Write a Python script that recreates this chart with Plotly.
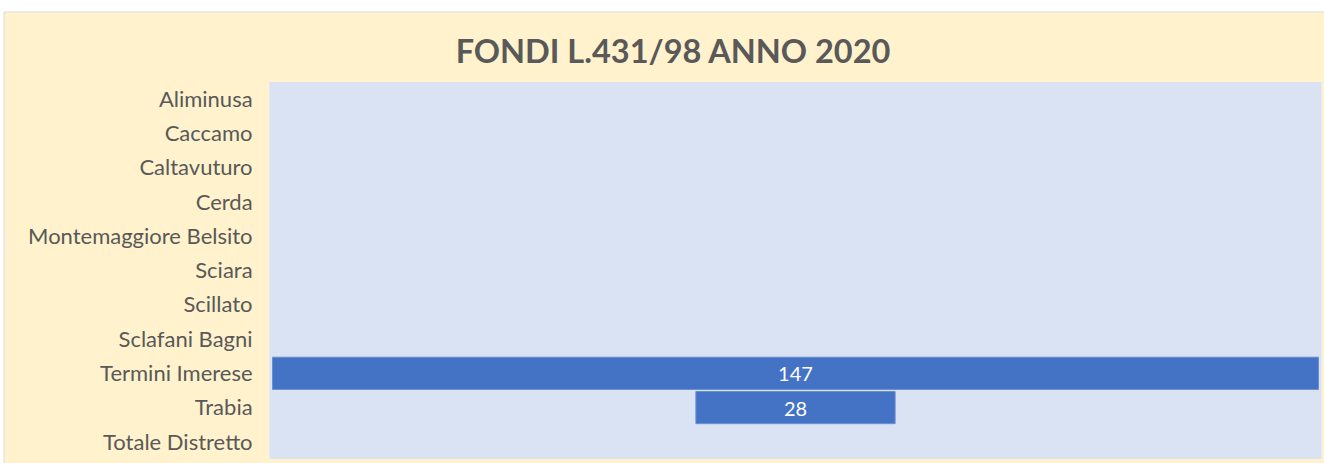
import plotly.graph_objects as go

categories = ["Aliminusa", "Caccamo", "Caltavuturo", "Cerda", "Montemaggiore Belsito",
              "Sciara", "Scillato", "Sclafani Bagni", "Termini Imerese", "Trabia",
              "Totale Distretto"]
values = [None, None, None, None, None, None, None, None, 147, 28, None]
title_text = "FONDI L.431/98 ANNO 2020"

W, H = 1324, 463
L, R, T, B = 270, 3, 82, 4
pw = W - L - R
ph = H - T - B

fig = go.Figure(go.Funnel(
    y=categories,
    x=values,
    textinfo="value",
    textposition="inside",
    insidetextfont=dict(color="white", size=20, family="Lato"),
    marker=dict(color="#4472C4", line=dict(color="#6A8FD2", width=1)),
    connector=dict(visible=False),
))

half = 147 / 2 * pw / 1046

fig.update_layout(
    width=W, height=H,
    margin=dict(l=L, r=R, t=T, b=B, pad=0),
    paper_bgcolor="#FFF2CC",
    plot_bgcolor="#DAE3F3",
    funnelgap=0.06,
    showlegend=False,
    title=dict(text="<b>" + title_text + "</b>", x=673 / W, xanchor="center",
               y=1 - 52 / H, yanchor="middle",
               font=dict(family="Lato", size=32.5, color="#595959")),
    xaxis=dict(range=[-half, half], visible=False, fixedrange=True),
    yaxis=dict(showgrid=False, ticks="", ticklabelstandoff=12,
               tickfont=dict(family="Lato", size=22, color="#595959"),
               showline=True, mirror=True, linecolor="#E3E9F5", linewidth=1,
               fixedrange=True),
    font=dict(family="Lato"),
    shapes=[
        dict(type="rect", xref="paper", yref="paper", layer="below",
             x0=-L / pw - 0.01, x1=1 + R / pw + 0.01, y0=1 + (T - 12) / ph, y1=1 + T / ph + 0.05,
             fillcolor="white", line=dict(width=0)),
        dict(type="rect", xref="paper", yref="paper", layer="below",
             x0=-L / pw - 0.01, x1=-(L - 4) / pw, y0=-B / ph - 0.05, y1=1 + T / ph + 0.05,
             fillcolor="white", line=dict(width=0)),
        dict(type="line", xref="paper", yref="paper", layer="below",
             x0=-(L - 4) / pw, x1=1 + R / pw, y0=1 + (T - 12) / ph, y1=1 + (T - 12) / ph,
             line=dict(color="#D9D9D9", width=1)),
        dict(type="line", xref="paper", yref="paper", layer="below",
             x0=-(L - 4) / pw, x1=-(L - 4) / pw, y0=-B / ph, y1=1 + (T - 12) / ph,
             line=dict(color="#D9D9D9", width=1)),
    ],
)

fig.write_html("out.html", config={"displayModeBar": False},
               post_script="document.body.style.margin='0';")
